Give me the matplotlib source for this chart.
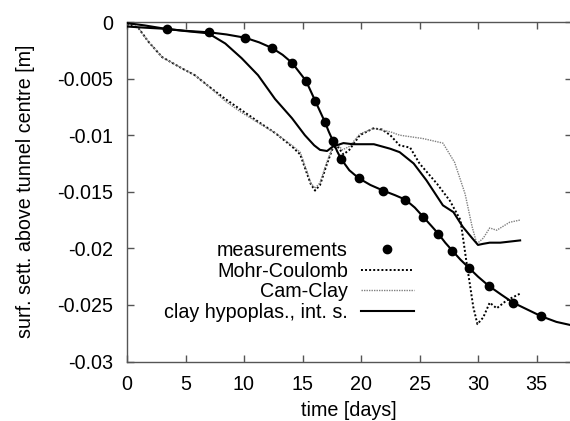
import matplotlib
matplotlib.use("Agg")
import matplotlib.pyplot as plt
from matplotlib.lines import Line2D

plt.rcParams['font.family'] = ['Liberation Sans', 'DejaVu Sans']

# measurements (dots)
meas_t = [3.4, 7.0, 10.1, 12.4, 14.1, 15.3, 16.1, 16.9, 17.6, 18.3, 19.8, 21.9,
          23.8, 25.3, 26.6, 27.8, 29.2, 30.9, 33.0, 35.4]
meas_s = [-0.00062, -0.00091, -0.00139, -0.0023, -0.0036, -0.0052, -0.0070, -0.0088,
          -0.0105, -0.0121, -0.0138, -0.0149, -0.0157, -0.0172, -0.0187, -0.0202,
          -0.0217, -0.0233, -0.0248, -0.0260]

# smooth curve through the measurements
fit_t = [0, 1.5, 3.4, 5.0, 7.0, 8.5, 10.1, 11.3, 12.4, 13.3, 14.1, 14.7, 15.3, 15.7,
         16.1, 16.5, 16.9, 17.25, 17.6, 17.95, 18.3, 19.0, 19.8, 20.8, 21.9, 22.9, 23.8,
         24.6, 25.3, 26.0, 26.6, 27.2, 27.8, 28.5, 29.2, 30.0, 30.9, 32.0, 33.0, 34.2,
         35.4, 36.7, 38.0]
fit_s = [-0.0001, -0.0003, -0.00062, -0.00078, -0.00091, -0.0011, -0.00139, -0.0018,
         -0.0023, -0.0029, -0.0036, -0.0044, -0.0052, -0.0061, -0.0070, -0.0079,
         -0.0088, -0.0097, -0.0105, -0.0114, -0.0121, -0.0131, -0.0138, -0.0144,
         -0.0149, -0.0153, -0.0157, -0.0164, -0.0172, -0.0180, -0.0187, -0.0195,
         -0.0202, -0.0210, -0.0217, -0.0225, -0.0233, -0.0241, -0.0248, -0.0254,
         -0.0260, -0.0265, -0.0268]

# Mohr-Coulomb
mc_t = [0, 0.5, 1.0, 1.8, 3.0, 4.7, 5.8, 7.0, 8.4, 9.8, 11.2, 12.65, 14.1, 14.8,
        15.35, 15.7, 16.07, 16.5, 17.07, 17.6, 18.0, 18.5, 19.0, 19.9, 21.05, 21.8,
        22.5, 23.3, 24.2, 25.0, 26.5, 27.6, 28.5, 29.0, 29.6, 29.95, 30.45, 31.0,
        31.6, 32.45, 33.6]
mc_s = [-0.0002, -0.0003, -0.00056, -0.0017, -0.0031, -0.0041, -0.0047, -0.0057,
        -0.0068, -0.0078, -0.0088, -0.0098, -0.0110, -0.0117, -0.0133, -0.0143,
        -0.0149, -0.0144, -0.0126, -0.0111, -0.0110, -0.0117, -0.0113, -0.0100,
        -0.0094, -0.0095, -0.0100, -0.0109, -0.0111, -0.0125, -0.0143, -0.0158,
        -0.0175, -0.0211, -0.0252, -0.0267, -0.0261, -0.0248, -0.0253, -0.0246,
        -0.0240]

# Cam-Clay
cc_t = [0, 0.5, 1.0, 1.8, 3.0, 4.7, 5.8, 7.0, 8.4, 9.8, 11.2, 12.65, 14.1, 14.8,
        15.35, 15.7, 16.07, 16.5, 17.07, 17.6, 18.0, 18.4, 19.0, 19.9, 21.05, 22.5,
        23.3, 25.3, 27.0, 28.0, 28.9, 29.5, 29.9, 30.45, 31.0, 31.6, 32.7, 33.6]
cc_s = [-0.0002, -0.0003, -0.00056, -0.0017, -0.0031, -0.0041, -0.0047, -0.0057,
        -0.0070, -0.0080, -0.0089, -0.0098, -0.0109, -0.0115, -0.0131, -0.0142,
        -0.0147, -0.0142, -0.0124, -0.0110, -0.0108, -0.0113, -0.0110, -0.0099,
        -0.0094, -0.0097, -0.0100, -0.0103, -0.0107, -0.0124, -0.0152, -0.0181,
        -0.0196, -0.0191, -0.0182, -0.0184, -0.0177, -0.0175]

# clay hypoplasticity, int. s.
hp_t = [0, 1.5, 3.25, 5.0, 6.95, 8.4, 9.8, 11.2, 12.65, 14.1, 15.2, 16.0, 16.5, 17.1,
        17.6, 18.5, 19.3, 20.2, 21.1, 22.5, 23.3, 24.5, 25.6, 27.0, 27.9, 28.7, 29.5,
        30.0, 30.45, 31.0, 31.9, 33.6]
hp_s = [-0.0004, -0.0005, -0.0006, -0.0008, -0.0010, -0.0019, -0.0032, -0.0047,
        -0.0068, -0.0085, -0.0100, -0.0109, -0.0113, -0.0114, -0.0110, -0.0107,
        -0.0108, -0.0108, -0.0108, -0.0112, -0.0115, -0.0125, -0.0140, -0.0162,
        -0.0168, -0.0181, -0.0191, -0.0197, -0.0196, -0.0195, -0.0195, -0.0193]

x_ticks = [0, 5, 10, 15, 20, 25, 30, 35]
y_ticks = [0, -0.005, -0.01, -0.015, -0.02, -0.025, -0.03]
y_ticklabels = ['0', '-0.005', '-0.01', '-0.015', '-0.02', '-0.025', '-0.03']
labels = ['measurements', 'Mohr-Coulomb', 'Cam-Clay', 'clay hypoplas., int. s.']

FS = 14.2
fig = plt.figure(figsize=(5.70, 4.21), dpi=100)
W, H = 570, 421
x0, x1, y0, y1 = 127, 571.6, 22, 361.5
ax = fig.add_axes([x0 / W, 1 - y1 / H, (x1 - x0) / W, (y1 - y0) / H])

ax.plot(fit_t, fit_s, color='black', lw=1.5, zorder=3)
ax.plot(meas_t, meas_s, 'o', color='black', ms=6, zorder=4)
ax.plot(mc_t, mc_s, color='black', lw=1.4, linestyle=(0, (1, 1.1)), zorder=2)
ax.plot(cc_t, cc_s, color='#808080', lw=1.0, linestyle=(0, (1, 0.8)), zorder=2)
ax.plot(hp_t, hp_s, color='black', lw=1.5, zorder=3)

handles = [
    Line2D([], [], marker='o', color='black', ls='none', ms=6),
    Line2D([], [], color='black', lw=1.4, linestyle=(0, (1, 1.1))),
    Line2D([], [], color='#808080', lw=1.0, linestyle=(0, (1, 0.8))),
    Line2D([], [], color='black', lw=1.5),
]
ax.legend(handles, labels, markerfirst=False, frameon=False, fontsize=FS,
          handlelength=2.7, handletextpad=0.65, labelspacing=0.08, numpoints=1,
          loc='upper right',
          bbox_to_anchor=((414 - x0) / (x1 - x0), 1 - (241 - y0) / (y1 - y0)),
          borderpad=0, borderaxespad=0)

ax.set_xlim(0, 38)
ax.set_ylim(-0.03, 0)
ax.set_xticks(x_ticks)
ax.set_xticklabels([str(t) for t in x_ticks])
ax.set_yticks(y_ticks)
ax.set_yticklabels(y_ticklabels)
ax.tick_params(direction='in', length=5, width=1, color='#555555', labelsize=FS,
               top=True, right=True, pad=10)
for sp in ax.spines.values():
    sp.set_color('#555555')
    sp.set_linewidth(1.0)

ax.set_xlabel('time [days]', fontsize=FS, labelpad=5)
ax.set_ylabel('surf. sett. above tunnel centre [m]', fontsize=FS, labelpad=16)

fig.savefig('out.png', dpi=100)
